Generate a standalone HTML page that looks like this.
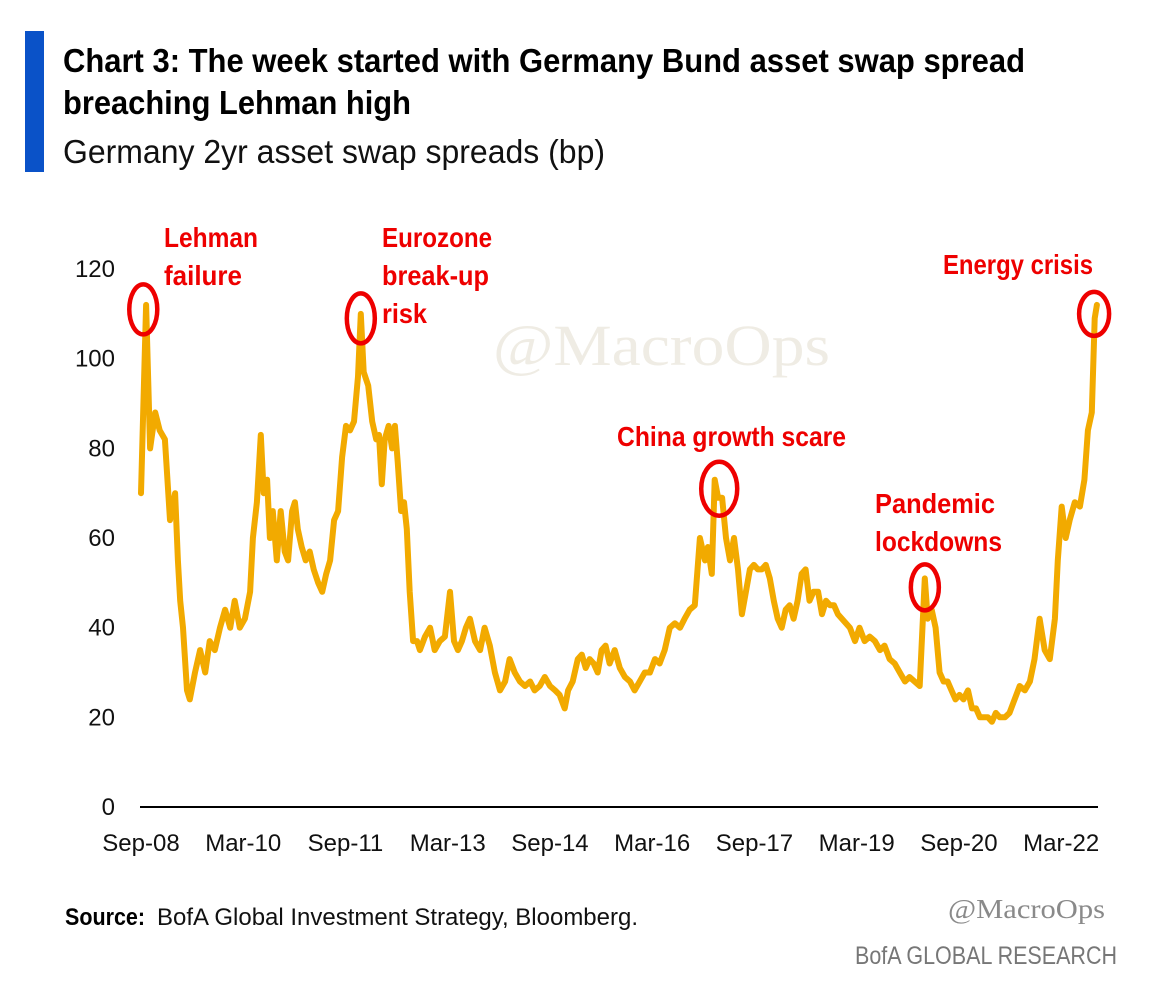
<!DOCTYPE html>
<html><head><meta charset="utf-8"><style>
html,body{margin:0;padding:0;background:#fff;}
svg{display:block;}
</style></head><body>
<svg id="chart" width="1160" height="984" viewBox="0 0 1160 984" xmlns="http://www.w3.org/2000/svg">
<rect x="0" y="0" width="1160" height="984" fill="#fff"/>
<rect x="25" y="31" width="19" height="141" fill="#0a52c8"/>
<text x="63" y="72" font-family="'Liberation Sans Narrow','Liberation Sans',sans-serif" font-weight="bold" font-size="33" textLength="962" lengthAdjust="spacingAndGlyphs" fill="#000">Chart 3: The week started with Germany Bund asset swap spread</text>
<text x="63" y="114" font-family="'Liberation Sans Narrow','Liberation Sans',sans-serif" font-weight="bold" font-size="33" textLength="348" lengthAdjust="spacingAndGlyphs" fill="#000">breaching Lehman high</text>
<text x="63" y="163" font-family="'Liberation Sans Narrow','Liberation Sans',sans-serif" font-size="33" textLength="542" lengthAdjust="spacingAndGlyphs" fill="#111">Germany 2yr asset swap spreads (bp)</text>
<text x="493" y="365" font-family="'Liberation Serif',serif" font-size="58" textLength="337" lengthAdjust="spacingAndGlyphs" fill="#efece4">@MacroOps</text>
<g id="yaxis"></g>
<g id="xaxis"></g>
<g id="plot"></g>
<g id="notes"></g>
<text x="65" y="925" font-family="'Liberation Sans Narrow','Liberation Sans',sans-serif" font-weight="bold" font-size="24" textLength="80" lengthAdjust="spacingAndGlyphs" fill="#000">Source:</text>
<text x="157" y="925" font-family="'Liberation Sans Narrow','Liberation Sans',sans-serif" font-size="24" textLength="481" lengthAdjust="spacingAndGlyphs" fill="#111">BofA Global Investment Strategy, Bloomberg.</text>
<text x="948" y="918" font-family="'Liberation Serif',serif" font-size="27" textLength="157" lengthAdjust="spacingAndGlyphs" fill="#8a8a8a">@MacroOps</text>
<text x="855" y="964" font-family="'Liberation Sans Narrow','Liberation Sans',sans-serif" font-size="25" textLength="262" lengthAdjust="spacingAndGlyphs" fill="#777">BofA GLOBAL RESEARCH</text>
</svg>
<script>
const months = [0,0.9,1.6,2.5,3.3,4.2,5.1,6.0,6.5,6.9,7.4,8.1,8.6,9.5,10.4,11.3,12.1,13.0,13.9,14.8,15.7,16.5,17.4,18.3,19.2,19.7,20.4,21.1,21.6,22.2,22.7,23.2,23.9,24.6,25.3,25.9,26.6,27.1,27.6,28.3,29.0,29.7,30.4,31.2,31.9,32.6,33.3,34.0,34.7,35.4,36.1,36.8,37.5,38.2,38.7,39.2,40.0,40.7,41.4,41.9,42.4,42.9,43.6,44.2,44.7,45.2,45.8,46.3,46.8,47.3,47.9,48.6,49.1,50.0,50.9,51.7,52.6,53.5,54.4,55.1,55.8,56.5,57.2,57.9,58.8,59.7,60.5,61.4,62.3,63.2,64.1,64.9,65.8,66.7,67.6,68.5,69.3,70.2,71.1,72.0,72.9,73.7,74.6,75.2,76.0,76.9,77.6,78.3,79.0,79.7,80.4,81.1,81.8,82.5,83.4,84.3,85.2,86.1,86.9,87.8,88.7,89.6,90.5,91.3,92.2,93.1,94.0,94.9,95.7,96.6,97.5,98.4,99.3,99.8,100.5,101.0,101.6,102.3,103.0,103.7,104.4,105.1,105.8,106.5,107.2,107.9,108.6,109.3,110.0,110.7,111.4,112.1,112.8,113.5,114.2,114.9,115.6,116.3,117.0,117.7,118.4,119.2,119.9,120.6,121.3,122.0,122.7,123.4,124.1,124.8,125.7,126.5,127.4,128.3,129.2,130.1,130.9,131.8,132.7,133.6,134.5,135.3,136.2,137.1,138.0,138.5,139.2,139.9,140.6,141.3,142.0,142.7,143.4,144.1,144.8,145.6,146.3,147.0,147.7,148.4,149.1,149.8,150.5,151.2,152.1,152.9,153.8,154.7,155.6,156.5,157.3,158.2,159.1,160.0,160.9,161.4,162.1,162.8,163.5,164.4,165.3,166.1,166.7,167.4,167.9,168.3];
const spreads = [70,112,80,88,84,82,64,70,55,46,40,26,24,30,35,30,37,35,40,44,40,46,40,42,48,60,68,83,70,73,60,66,55,66,57,55,66,68,62,58,55,57,53,50,48,52,55,64,66,78,85,84,86,96,110,97,94,86,82,83,72,82,85,80,85,77,66,68,62,48,37,37,35,38,40,35,37,38,48,37,35,37,40,42,37,35,40,36,30,26,28,33,30,28,27,28,26,27,29,27,26,25,22,26,28,33,34,31,33,32,30,35,36,32,35,31,29,28,26,28,30,30,33,32,35,40,41,40,42,44,45,60,55,58,52,73,69,69,60,55,60,53,43,48,53,54,53,53,54,51,46,42,40,44,45,42,46,52,53,46,48,48,43,46,45,45,43,42,41,40,37,40,37,38,37,35,36,33,32,30,28,29,28,27,51,42,44,40,30,28,28,26,24,25,24,26,22,22,20,20,20,19,21,20,20,21,24,27,26,28,33,42,35,33,42,55,67,60,64,68,67,73,84,88,109,112];
const xTickLabels = ["Sep-08","Mar-10","Sep-11","Mar-13","Sep-14","Mar-16","Sep-17","Mar-19","Sep-20","Mar-22"];
const xTickMonths = [0,18,36,54,72,90,108,126,144,162];
const yTicks = [0,20,40,60,80,100,120];
const noteLabels = [["Lehman","failure"],["Eurozone","break-up","risk"],["China growth scare"],["Pandemic","lockdowns"],["Energy crisis"]];
const noteMonths = [0.4,38.7,101.8,138.0,167.8];
const noteValues = [111,109,71,49,110];

const NS="http://www.w3.org/2000/svg";
const X = m => 141 + m*5.68;
const Y = v => 807 - v*4.483;
function mk(tag, attrs, parent){const e=document.createElementNS(NS,tag);for(const k in attrs)e.setAttribute(k,attrs[k]);parent.appendChild(e);return e;}
const yaxis=document.getElementById('yaxis'), xaxis=document.getElementById('xaxis'), plot=document.getElementById('plot'), notes=document.getElementById('notes');
yTicks.forEach(v=>{
  const t=mk('text',{x:115,y:Y(v)+8,'text-anchor':'end','font-family':"'Liberation Sans Narrow','Liberation Sans',sans-serif",'font-size':24,fill:'#111'},yaxis);
  
  
  t.textContent=v;
});
const ax=mk('line',{x1:140,x2:1098,y1:Y(0),y2:Y(0),stroke:'#000','stroke-width':2},xaxis);


xTickLabels.forEach((l,i)=>{
  const t=mk('text',{x:X(xTickMonths[i]),y:851,'text-anchor':'middle','font-family':"'Liberation Sans Narrow','Liberation Sans',sans-serif",'font-size':24,fill:'#111'},xaxis);
  
  
  t.textContent=l;
});
const d=months.map((m,i)=>(i?'L':'M')+X(m).toFixed(1)+' '+Y(spreads[i]).toFixed(1)).join(' ');
const line=mk('path',{d:d,fill:'none',stroke:'#f2aa00','stroke-width':6,'stroke-linejoin':'round','stroke-linecap':'round'},plot);


const textPos=[[164,247],[382,247],[617,446],[875,513],[943,274]];
const textWidths=[[94,78],[110,107,45],[229],[120,127],[150]];
const rx=[14,14,18,14,15], ry=[25,25,27,23,22];
noteLabels.forEach((lines,i)=>{
  const cx=X(noteMonths[i]), cy=Y(noteValues[i]);
  const c=mk('ellipse',{cx:cx,cy:cy,rx:rx[i],ry:ry[i],fill:'none',stroke:'#ee0000','stroke-width':4.5},notes);
  
  
  const p=textPos[i];
  lines.forEach((s,j)=>{
    const t=mk('text',{x:p[0],y:p[1]+j*38,'font-family':"'Liberation Sans Narrow','Liberation Sans',sans-serif",'font-weight':'bold','font-size':28,textLength:textWidths[i][j],lengthAdjust:'spacingAndGlyphs',fill:'#ee0000'},notes);
    
    
    t.textContent=s;
  });
});
</script>
</body></html>
